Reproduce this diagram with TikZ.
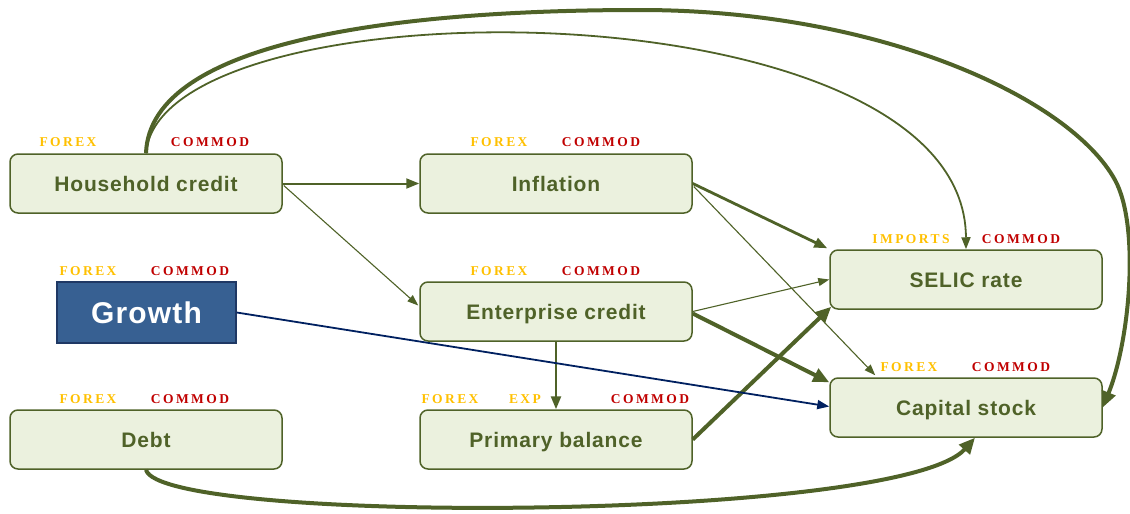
\documentclass[tikz,border=0pt]{standalone}
\usepackage{fontspec}
\setmainfont{Liberation Sans}
\newfontfamily\boxfont[LetterSpace=4]{Liberation Sans}
\newfontfamily\lblfont[LetterSpace=18]{Liberation Serif}
\usetikzlibrary{arrows.meta,calc}
\definecolor{oliveG}{HTML}{4F6228}
\definecolor{boxfill}{HTML}{EBF1DE}
\definecolor{goldC}{HTML}{FFC000}
\definecolor{redC}{HTML}{C00000}
\definecolor{navyC}{HTML}{002060}
\definecolor{growthfill}{HTML}{376092}
\definecolor{growthline}{HTML}{1F3864}
\tikzset{
  box/.style={draw=oliveG, line width=1.5pt, fill=boxfill, rounded corners=8pt,
    minimum width=272pt, minimum height=59pt, inner sep=0pt,
    text height=15pt, text depth=0pt,
    font=\boxfont\bfseries\fontsize{21}{24}\selectfont, text=oliveG},
  gbox/.style={draw=growthline, line width=1.5pt, fill=growthfill,
    minimum width=179pt, minimum height=61pt, inner sep=0pt,
    text height=21.5pt, text depth=0pt,
    font=\boxfont\bfseries\fontsize{30}{34}\selectfont, text=white},
  lblgold/.style={font=\lblfont\bfseries\fontsize{13.5}{15}\selectfont, text=goldC, inner sep=0pt},
  lblred/.style={font=\lblfont\bfseries\fontsize{13.5}{15}\selectfont, text=redC, inner sep=0pt},
  thinA/.style={draw=oliveG, line width=1.1pt, -{Triangle[length=11pt,width=8pt]}},
  medA/.style={draw=oliveG, line width=2.4pt, -{Triangle[length=13pt,width=10pt]}},
  thickA/.style={draw=oliveG, line width=4pt, -{Triangle[length=16pt,width=14pt]}},
  navyA/.style={draw=navyC, line width=1.8pt, -{Triangle[length=12pt,width=9pt]}},
}
\begin{document}
\begin{tikzpicture}[x=1pt,y=-1pt]
\useasboundingbox (0,0) rectangle (1130,514);
% boxes
\node[box] (hh) at (146,183.5) {Household credit};
\node[box] (inf) at (556,183.5) {Inflation};
\node[box] (ent) at (556,311.5) {Enterprise credit};
\node[box] (pb) at (556,439.5) {Primary balance};
\node[box] (debt) at (146,439.5) {Debt};
\node[gbox] (gr) at (146.5,312.5) {Growth};
\node[box] (sel) at (966,279.5) {SELIC rate};
\node[box] (cap) at (966,407.5) {Capital stock};
% labels
\node[lblgold] (hhF) at (68,142) {FOREX};
\node[lblred] (hhC) at (210,142) {COMMOD};
\node[lblgold] (infF) at (499,142) {FOREX};
\node[lblred] (infC) at (601,142) {COMMOD};
\node[lblgold] (grF) at (88,271) {FOREX};
\node[lblred] (grC) at (190,271) {COMMOD};
\node[lblgold] (entF) at (499,271) {FOREX};
\node[lblred] (entC) at (601,271) {COMMOD};
\node[lblgold] (debtF) at (88,399) {FOREX};
\node[lblred] (debtC) at (190,399) {COMMOD};
\node[lblgold] (pbF) at (450,399) {FOREX};
\node[lblgold] (pbE) at (525,399) {EXP};
\node[lblred] (pbC) at (650,399) {COMMOD};
\node[lblgold] (selI) at (911,239) {IMPORTS};
\node[lblred] (selC) at (1021,239) {COMMOD};
\node[lblgold] (capF) at (909,367) {FOREX};
\node[lblred] (capC) at (1011,367) {COMMOD};
% connectors
\draw[medA, line width=2pt] (hh.east) -- (inf.west);
\draw[thinA] ($(hh.east)+(1,2)$) -- ($(ent.west)+(-1,-6)$);
\draw[medA, line width=2.8pt] (inf.east) -- ($(sel.north west)+(-2,-1)$);
\draw[thinA] ($(inf.east)+(1,3)$) -- ($(cap.north west)+(46,-2)$);
\draw[thinA] (ent.east) -- (sel.west);
\draw[thickA] ($(ent.east)+(0,2)$) -- ($(cap.north west)+(0,5)$);
\draw[medA] (ent.south) -- (pb.north);
\draw[thickA] (pb.east) -- ($(sel.south west)+(2,-3)$);
\draw[navyA] (gr.east) -- ($(cap.west)+(0,-1)$);
\draw[thickA] (debt.south) .. controls (160,525) and (900,522) .. ($(cap.south)+(9,0)$);
\draw[draw=oliveG, line width=1.8pt, -{Triangle[length=12pt,width=9pt]}]
  (hh.north) .. controls (160,-20) and (965,-20) .. (sel.north);
\draw[thickA] (hh.north) .. controls (150,40) and (400,10) .. (640,10)
  .. controls (880,10) and (1070,98) .. (1115,180)
  .. controls (1140,226) and (1130,340) .. (cap.east);
\end{tikzpicture}
\end{document}
